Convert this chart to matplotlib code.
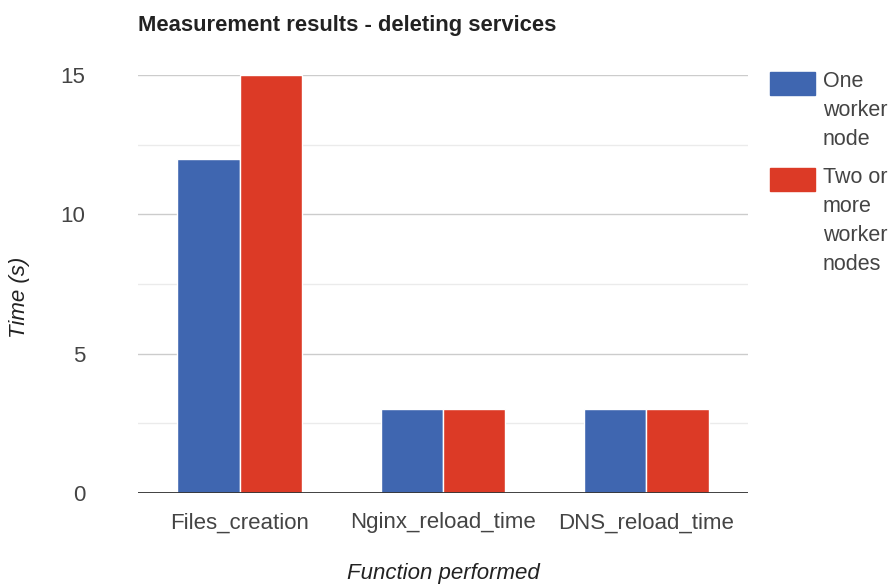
import numpy as np
import matplotlib.pyplot as plt
from matplotlib.patches import Rectangle

plt.rcParams['font.family'] = ['Liberation Sans', 'DejaVu Sans']

categories = ["Files_creation", "Nginx_reload_time", "DNS_reload_time"]
one_worker = [12, 3, 3]
two_workers = [15, 3, 3]
series_names = ["One\nworker\nnode", "Two or\nmore\nworker\nnodes"]
colors = ["#3f66b0", "#dc3a26"]

W, H = 892, 585
fig = plt.figure(figsize=(W / 100, H / 100), dpi=100)
ax = fig.add_axes([138 / W, 1 - 493 / H, 610 / W, 418 / H])

x = np.arange(len(categories))
bw = 0.307
ax.bar(x - bw / 2, one_worker, bw, color=colors[0], edgecolor="white", linewidth=1, zorder=3)
ax.bar(x + bw / 2, two_workers, bw, color=colors[1], edgecolor="white", linewidth=1, zorder=3)

ax.set_xlim(-0.5, len(categories) - 0.5)
ax.set_ylim(0, 15)
ax.set_yticks([0, 5, 10, 15])
ax.set_yticks([2.5, 7.5, 12.5], minor=True)
ax.grid(axis="y", which="major", color="#cccccc", linewidth=1, zorder=0)
ax.grid(axis="y", which="minor", color="#ebebeb", linewidth=1, zorder=0)
ax.axhline(0, color="#333333", linewidth=1.3, zorder=4)

ax.set_xticks(x)
ax.set_xticklabels(categories)
ax.tick_params(axis="both", which="both", length=0, labelsize=16, labelcolor="#444444")
ax.tick_params(axis="x", pad=14)
ax.tick_params(axis="y", pad=38)
for s in ax.spines.values():
    s.set_visible(False)

# axis titles
fig.text(443 / W, 1 - 574 / H, "Function performed", fontsize=16, style="italic",
         color="#222222", ha="center", va="center")
fig.text(19 / W, 1 - 297 / H, "Time (s)", fontsize=16, style="italic",
         color="#222222", ha="center", va="center", rotation=90)

fig.text(138 / W, 1 - 25 / H, "Measurement results - deleting services",
         fontsize=15.8, fontweight="bold", color="#222222", va="center", ha="left")

# legend
leg_tops = [72, 168]
for i, (name, c) in enumerate(zip(series_names, colors)):
    top = leg_tops[i]
    fig.add_artist(Rectangle((770 / W, 1 - (top + 23) / H), 45 / W, 23 / H,
                             transform=fig.transFigure, color=c))
    fig.text(823 / W, 1 - (top - 1) / H, name, fontsize=15.5, color="#444444",
             va="top", ha="left", linespacing=1.5)

fig.savefig("out.png", dpi=100)
